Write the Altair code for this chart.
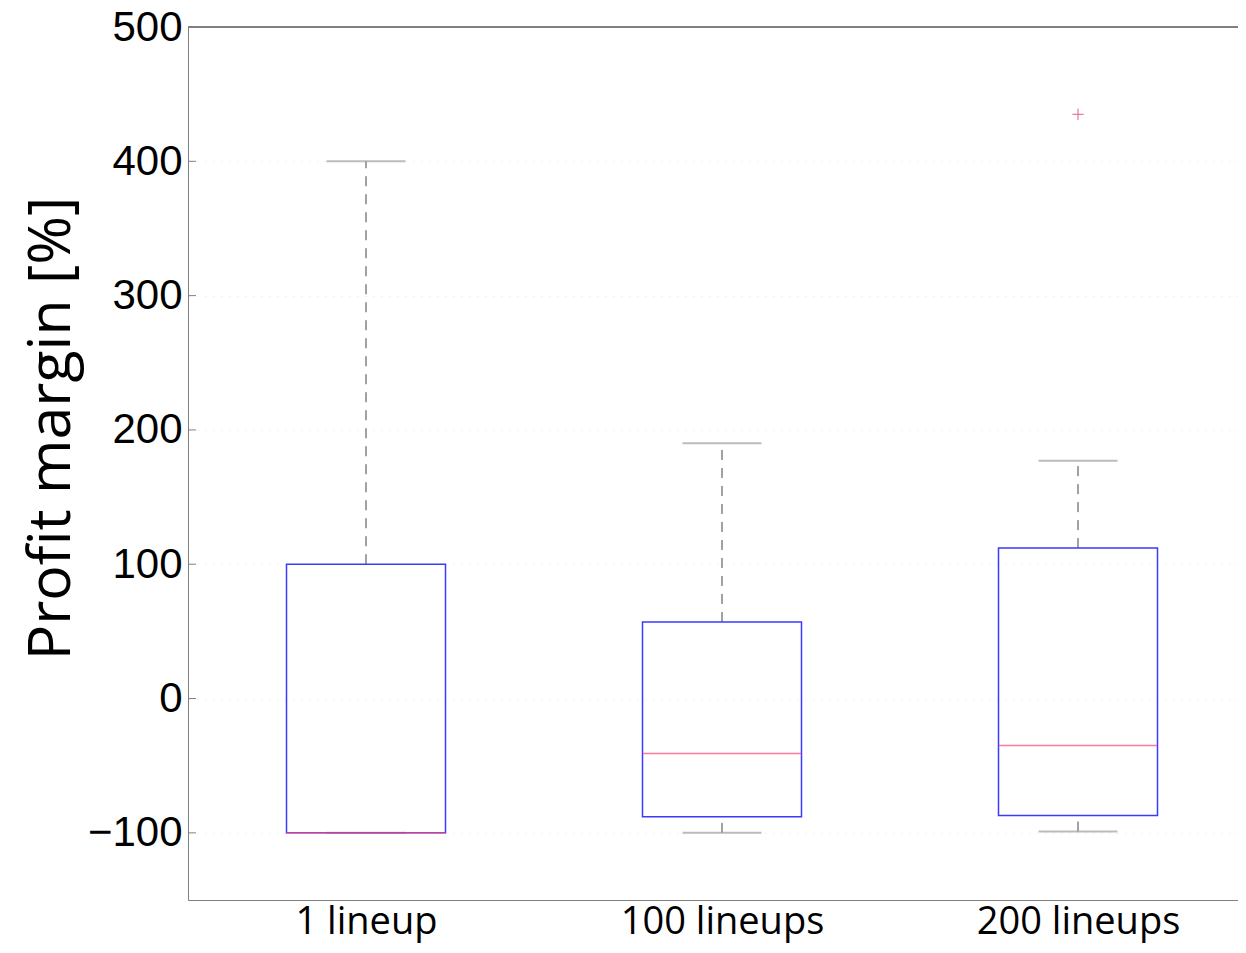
import altair as alt
import pandas as pd

categories = ["1 lineup", "100 lineups", "200 lineups"]
whisker_low = [-100, -100, -99]
q1 = [-100, -88, -87]
median = [-100, -41, -35]
q3 = [100, 57, 112]
whisker_high = [400, 190, 177]
outlier_cat = ["200 lineups"]
outlier_val = [435]
y_ticks = [-100, 0, 100, 200, 300, 400, 500]

df = pd.DataFrame({
    "cat": categories,
    "pos": [i + 1 for i in range(len(categories))],
    "lo": whisker_low, "q1": q1, "med": median, "q3": q3, "hi": whisker_high,
})
out_df = pd.DataFrame({
    "pos": [categories.index(c) + 1 for c in outlier_cat],
    "val": outlier_val,
})
tick_df = pd.DataFrame({"t": y_ticks})

W, H = 1050, 873
xscale = alt.Scale(domain=[0.5, 0.5 + W / 356.0], nice=False, zero=False, padding=0)
yscale = alt.Scale(domain=[-150, 500], nice=False, zero=False, padding=0)

label_expr = " : ".join(
    [f"datum.value == {i+1} ? '{c}'" for i, c in enumerate(categories[:-1])]
) + f" : '{categories[-1]}'"

x_axis = alt.Axis(values=[1, 2, 3], labelExpr=label_expr, ticks=False, grid=False,
                  labelFont="Open Sans", labelFontSize=38, labelColor="#000",
                  labelPadding=3, labelLimit=0, labelOverlap=False,
                  domainColor="#808080", title=None)
y_axis = alt.Axis(values=y_ticks, ticks=False, grid=True, gridColor="#f0f0f0",
                  gridDash=[2, 6], labelFont="Liberation Sans", labelFontSize=42,
                  labelColor="#000", labelPadding=6, domainColor="#808080",
                  title="Profit margin [%]", titleFont="Open Sans", titleFontSize=59,
                  titleFontWeight="normal", titleColor="#000", titleAngle=-90,
                  titleX=-119, titleY=401, titleAlign="center",
                  titleBaseline="alphabetic", titleLimit=0)

X = lambda f: alt.X(f, scale=xscale, axis=x_axis)
Y = lambda f: alt.Y(f, scale=yscale, axis=y_axis)

base = alt.Chart(df)

whisk_hi = base.mark_rule(color="#444", strokeWidth=1, strokeDash=[10, 8]).encode(
    x=X("pos:Q"), y=Y("q3:Q"), y2="hi:Q",
)
whisk_lo = base.mark_rule(color="#444", strokeWidth=1, strokeDash=[10, 8]).encode(
    x=X("pos:Q"), y=Y("lo:Q"), y2="q1:Q",
)
cap_hi = base.mark_tick(orient="horizontal", size=79, thickness=2, color="#a0a0a0").encode(
    x=X("pos:Q"), y=Y("hi:Q"),
)
cap_lo = base.mark_tick(orient="horizontal", size=79, thickness=2, color="#a0a0a0").encode(
    x=X("pos:Q"), y=Y("lo:Q"),
)
box = base.mark_bar(size=159, fillOpacity=0, stroke="#3a3aff", strokeWidth=1.5).encode(
    x=X("pos:Q"), y=Y("q1:Q"), y2="q3:Q",
)
med = base.mark_tick(orient="horizontal", size=159, thickness=1.5, color="#ff4070").encode(
    x=X("pos:Q"), y=Y("med:Q"),
)
outl = alt.Chart(out_df).mark_point(shape="M-1,0L1,0M0,-1L0,1", size=130, filled=False,
                                     stroke="#d0205a", strokeWidth=1).encode(
    x=X("pos:Q"), y=Y("val:Q"),
)
inticks = alt.Chart(tick_df).mark_rule(color="#808080", strokeWidth=1).encode(
    x=alt.value(0), x2=alt.value(8), y=Y("t:Q"),
)
topline = alt.Chart(tick_df).mark_rule(color="#808080", strokeWidth=1).encode(
    x=alt.value(0), x2=alt.value(W), y=alt.value(0),
)

chart = alt.layer(whisk_hi, whisk_lo, cap_hi, cap_lo, box, med, outl, inticks, topline).properties(
    width=W, height=H,
    autosize=alt.AutoSizeParams(type="none"),
    padding={"left": 180, "top": 19, "right": 0, "bottom": 45},
).configure_view(stroke=None).configure(background="white")

chart.save("out.html", embed_options={"renderer": "svg", "actions": False})
